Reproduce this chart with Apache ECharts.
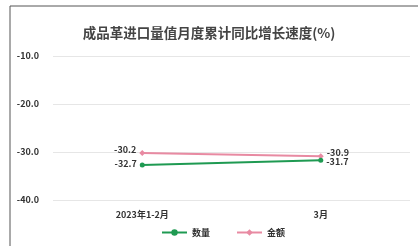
<!DOCTYPE html>
<html>
<head>
<meta charset="utf-8">
<script src="https://cdn.jsdelivr.net/npm/echarts@6/dist/echarts.min.js"></script>
<style>
html, body { margin: 0; padding: 0; background: #fff; }
#main { width: 418px; height: 246px; }
</style>
</head>
<body>
<div id="main"></div>
<script>
var categories = ['2023年1-2月', '3月'];
var qtyValues = [-32.7, -31.7];
var amtValues = [-30.2, -30.9];
var seriesNames = ['数量', '金额'];

var myChart = echarts.init(document.getElementById('main'));
var labelFont = { fontSize: 9, fontWeight: 'bold', color: '#333', fontFamily: 'Noto Sans CJK SC' };

function pointLabels(vals, offs) {
    return vals.map(function (v, i) {
        return {
            value: v,
            label: {
                position: i === 0 ? 'left' : 'right',
                offset: offs[i],
                distance: 3
            }
        };
    });
}

var option = {
    animation: false,
    title: {
        text: '成品革进口量值月度累计同比增长速度(%)',
        left: 'center',
        top: 21,
        textStyle: { fontSize: 13.5, fontWeight: 'bold', color: '#444', fontFamily: 'Noto Sans CJK SC' }
    },
    graphic: [
        { type: 'line', shape: { x1: 10, y1: 6, x2: 418, y2: 6 }, style: { stroke: '#555', lineWidth: 1 } },
        { type: 'line', shape: { x1: 10, y1: 6, x2: 10, y2: 246 }, style: { stroke: '#555', lineWidth: 1 } }
    ],
    legend: {
        bottom: 4,
        left: 156,
        itemWidth: 25,
        itemHeight: 8,
        itemGap: 26,
        textStyle: labelFont,
        data: seriesNames
    },
    grid: { left: 53, right: 8, top: 56, bottom: 46 },
    xAxis: {
        type: 'category',
        data: categories,
        axisLine: { show: false },
        axisTick: { show: false },
        axisLabel: Object.assign({ margin: 10 }, labelFont)
    },
    yAxis: {
        type: 'value',
        min: -40,
        max: -10,
        interval: 10,
        axisLine: { show: false },
        axisTick: { show: false },
        splitLine: { lineStyle: { color: '#e6e6e6' } },
        axisLabel: Object.assign({
            margin: 14,
            formatter: function (v) { return v.toFixed(1); }
        }, labelFont)
    },
    series: [{
        name: seriesNames[0],
        type: 'line',
        data: pointLabels(qtyValues, [[0, -1], [0, 1]]),
        symbol: 'circle',
        symbolSize: 5,
        color: '#1f9a52',
        lineStyle: { width: 2 },
        label: Object.assign({ show: true, formatter: function (p) { return p.value.toFixed(1); } }, labelFont),
        z: 3
    }, {
        name: seriesNames[1],
        type: 'line',
        data: pointLabels(amtValues, [[0, -3], [0, -4]]),
        symbol: 'diamond',
        symbolSize: 6,
        color: '#e88aa2',
        lineStyle: { width: 2 },
        label: Object.assign({ show: true, formatter: function (p) { return p.value.toFixed(1); } }, labelFont),
        z: 2
    }]
};

myChart.setOption(option);
</script>
</body>
</html>
